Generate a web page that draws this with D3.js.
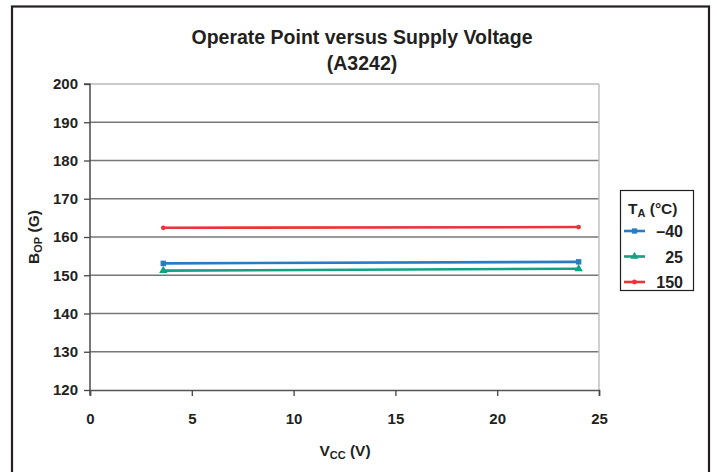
<!DOCTYPE html>
<html><head><meta charset="utf-8">
<script src="https://cdn.jsdelivr.net/npm/d3@7"></script>
<style>body{margin:0;background:#fff}svg{display:block;font-family:"Liberation Sans",Arial,sans-serif}</style>
</head><body>
<script>
const xValues = [3.6, 24];
const seriesNames = ["\u201340", "25", "150"];
const seriesM40 = [153.1, 153.5];
const series25 = [151.2, 151.7];
const series150 = [162.4, 162.6];
const xTicks = [0, 5, 10, 15, 20, 25];
const yTicks = [120, 130, 140, 150, 160, 170, 180, 190, 200];
const colors = ["#2b7bc1", "#10a283", "#e8353b"];
const markers = ["square", "triangle", "circle"];

const W = 717, H = 472;
const svg = d3.select("body").append("svg").attr("width", W).attr("height", H);
svg.append("rect").attr("x", 12).attr("y", 6.5).attr("width", 697).attr("height", 480)
  .attr("fill", "none").attr("stroke", "#231f20").attr("stroke-width", 2.2);

const x = d3.scaleLinear().domain([0, 25]).range([90, 599]);
const y = d3.scaleLinear().domain([120, 200]).range([390, 84]);

// grid
svg.append("g").selectAll("line").data(yTicks.slice(1)).join("line")
  .attr("x1", x(0)).attr("x2", x(25)).attr("y1", d => y(d)).attr("y2", d => y(d))
  .attr("stroke", d => d === 200 ? "#b8b8b8" : "#777").attr("stroke-width", 1.4);
svg.append("line").attr("x1", x(25)).attr("x2", x(25)).attr("y1", y(200)).attr("y2", y(120))
  .attr("stroke", "#c0c0c0").attr("stroke-width", 1.5);

const xa = svg.append("g").attr("transform", `translate(0,${y(120)})`)
  .call(d3.axisBottom(x).tickValues(xTicks).tickSize(6).tickPadding(17).tickFormat(d3.format("d")));
const ya = svg.append("g").attr("transform", `translate(${x(0)},0)`)
  .call(d3.axisLeft(y).tickValues(yTicks).tickSize(6).tickPadding(6).tickFormat(d3.format("d")));
[xa, ya].forEach(a => {
  a.select(".domain").attr("stroke", "#555").attr("stroke-width", 1.6);
  a.selectAll(".tick line").attr("stroke", "#444").attr("stroke-width", 1.3);
  a.selectAll("text").attr("font-size", 15).attr("font-weight", "bold").attr("fill", "#231f20")
    .attr("font-family", "Liberation Sans, Arial, sans-serif");
});
ya.select(".domain").attr("d", `M-6,${y(200)}H0V${y(120) + 5}`);

const data = [seriesM40, series25, series150];
const line = d3.line().x((d, i) => x(xValues[i])).y(d => y(d));
data.forEach((s, k) => {
  const g = svg.append("g");
  g.append("path").datum(s).attr("d", line).attr("fill", "none").attr("stroke", colors[k]).attr("stroke-width", 2.6);
  const sym = markers[k] === "square" ? d3.symbolSquare : markers[k] === "triangle" ? d3.symbolTriangle : d3.symbolCircle;
  const size = markers[k] === "circle" ? 18 : 30;
  g.selectAll("path.m").data(s).join("path").attr("class", "m")
    .attr("transform", (d, i) => `translate(${x(xValues[i])},${y(d)})`)
    .attr("d", d3.symbol().type(sym).size(size)).attr("fill", colors[k]);
});

// title
svg.append("text").attr("x", 362).attr("y", 44).attr("text-anchor", "middle")
  .attr("font-size", 19.5).attr("font-weight", "bold").attr("fill", "#231f20").text("Operate Point versus Supply Voltage");
svg.append("text").attr("x", 362).attr("y", 70).attr("text-anchor", "middle")
  .attr("font-size", 19.5).attr("font-weight", "bold").attr("fill", "#231f20").text("(A3242)");

// axis titles
const xt = svg.append("text").attr("x", 345).attr("y", 456).attr("text-anchor", "middle")
  .attr("font-size", 15.5).attr("font-weight", "bold").attr("fill", "#231f20");
xt.append("tspan").text("V");
xt.append("tspan").attr("font-size", 11).attr("dy", 3).text("CC");
xt.append("tspan").attr("dy", -3).text(" (V)");

const yt = svg.append("text").attr("transform", `translate(39,237) rotate(-90)`).attr("text-anchor", "middle")
  .attr("font-size", 15.5).attr("font-weight", "bold").attr("fill", "#231f20");
yt.append("tspan").text("B");
yt.append("tspan").attr("font-size", 11).attr("dy", 3).text("OP");
yt.append("tspan").attr("dy", -3).text(" (G)");

// legend
const lg = svg.append("g");
lg.append("rect").attr("x", 620.5).attr("y", 190.5).attr("width", 73).attr("height", 100)
  .attr("fill", "#fff").attr("stroke", "#231f20").attr("stroke-width", 1.2);
const lt = lg.append("text").attr("x", 628).attr("y", 214).attr("font-size", 15.5).attr("font-weight", "bold").attr("fill", "#231f20");
lt.append("tspan").text("T");
lt.append("tspan").attr("font-size", 11).attr("dy", 3).text("A");
lt.append("tspan").attr("dy", -3).text(" (\u00B0C)");
seriesNames.forEach((n, k) => {
  const yy = 231 + k * 25.5;
  lg.append("line").attr("x1", 624).attr("x2", 645).attr("y1", yy).attr("y2", yy)
    .attr("stroke", colors[k]).attr("stroke-width", 2.6);
  const sym = markers[k] === "square" ? d3.symbolSquare : markers[k] === "triangle" ? d3.symbolTriangle : d3.symbolCircle;
  lg.append("path").attr("transform", `translate(634.5,${yy})`)
    .attr("d", d3.symbol().type(sym).size(markers[k] === "circle" ? 18 : 28)).attr("fill", colors[k]);
  lg.append("text").attr("x", 683).attr("y", yy + 6).attr("text-anchor", "end")
    .attr("font-size", 16).attr("font-weight", "bold").attr("fill", "#231f20").text(n);
});
</script>
</body></html>
